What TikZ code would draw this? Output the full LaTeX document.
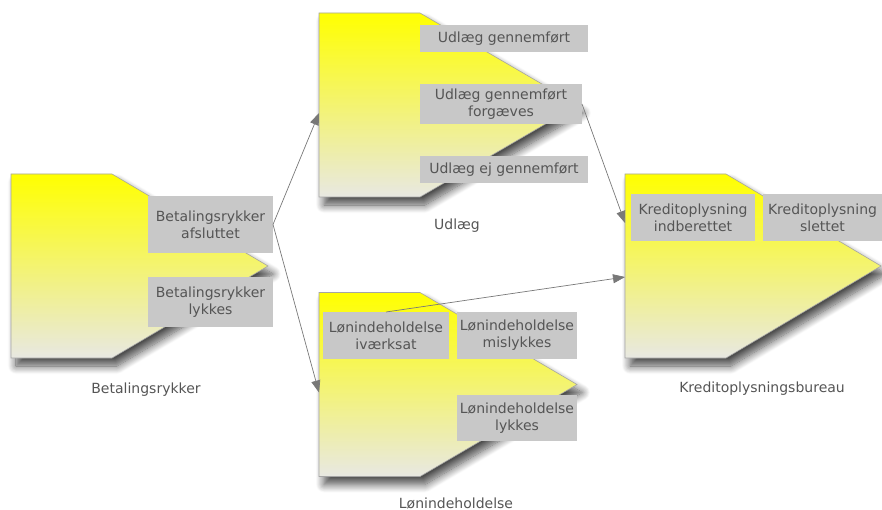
\documentclass[tikz,border=0pt]{standalone}
\usepackage{fontspec}
\setmainfont{DejaVu Sans}
\usetikzlibrary{arrows.meta,calc,shadows.blur}

\definecolor{boxgray}{RGB}{200,200,200}
\definecolor{txtgray}{RGB}{85,85,85}
\definecolor{linegray}{RGB}{120,120,120}
\definecolor{edgegray}{RGB}{165,165,165}
\definecolor{shadetop}{RGB}{255,255,0}
\definecolor{shadeend}{RGB}{232,232,226}

\tikzset{
  body/.style={inner sep=0pt, outer sep=0pt, minimum width=101pt, minimum height=184pt},
  chevron/.style={draw=edgegray, line width=0.6pt, top color=shadetop, bottom color=shadeend,
    blur shadow={shadow xshift=5pt, shadow yshift=-8pt, shadow blur radius=8pt,
      shadow blur steps=12, shadow opacity=70}},
  state/.style={fill=boxgray, text=txtgray, font=\fontsize{14pt}{17pt}\selectfont,
    align=center, inner sep=0pt, outer sep=0pt},
  caption/.style={text=txtgray, font=\fontsize{14pt}{17pt}\selectfont, anchor=base},
  flow/.style={draw=linegray, line width=0.7pt, -{Triangle[length=12pt,width=9pt]}}
}

% chevron-shaped lane drawn around an invisible body node
\newcommand\lanebody[2]{%
  \path[chevron] (#1.north west) -- (#1.north east) -- ($(#1.east)+(#2,0)$)
    -- (#1.south east) -- (#1.south west) -- cycle;}

\begin{document}
\begin{tikzpicture}[x=1pt, y=-1pt]
  \useasboundingbox (0,0) rectangle (882,510);

  % lane bodies
  \node[body] (beta)   at (61.5,266)   {};
  \node[body] (udlaeg) at (369.5,105)  {};
  \node[body] (loen)   at (369.5,384.5) {};
  \node[body] (kredit) at (675.5,266)  {};

  \lanebody{beta}{156}
  \lanebody{udlaeg}{158}
  \lanebody{loen}{157}
  \lanebody{kredit}{155}

  % states
  \node[state, minimum width=125pt, minimum height=57pt] (bra) at (210.5,224.5) {Betalingsrykker\\afsluttet};
  \node[state, minimum width=125pt, minimum height=50pt] (brl) at (210.5,302) {Betalingsrykker\\lykkes};

  \node[state, minimum width=168pt, minimum height=27pt] (ug)  at (504,38.5)  {Udlæg gennemført};
  \node[state, minimum width=162pt, minimum height=40pt] (ugf) at (501,104)   {Udlæg gennemført\\forgæves};
  \node[state, minimum width=168pt, minimum height=27pt] (uej) at (504,169.5) {Udlæg ej gennemført};

  \node[state, minimum width=126pt, minimum height=47pt] (li) at (386,335.5) {Lønindeholdelse\\iværksat};
  \node[state, minimum width=120pt, minimum height=47pt] (lm) at (517,335.5) {Lønindeholdelse\\mislykkes};
  \node[state, minimum width=120pt, minimum height=46pt] (ll) at (517,418)   {Lønindeholdelse\\lykkes};

  \node[state, minimum width=124pt, minimum height=47pt] (ki) at (693,217.5)   {Kreditoplysning\\indberettet};
  \node[state, minimum width=119pt, minimum height=47pt] (ks) at (822.5,217.5) {Kreditoplysning\\slettet};

  % lane captions
  \node[caption] (cbeta)   at (146,393) {Betalingsrykker};
  \node[caption] (cudlaeg) at (457,230) {Udlæg};
  \node[caption] (cloen)   at (456,508) {Lønindeholdelse};
  \node[caption] (ckredit) at (762,392) {Kreditoplysningsbureau};

  % transitions
  \draw[flow] (bra.east) -- ($(udlaeg.west)+(0,8)$);
  \draw[flow] (bra.east) -- ($(loen.west)+(0,8)$);
  \draw[flow] (ugf.east) -- ($(kredit.west)+(0,-43)$);
  \draw[flow] (li.north) -- ($(kredit.west)+(0,11)$);
\end{tikzpicture}
\end{document}
